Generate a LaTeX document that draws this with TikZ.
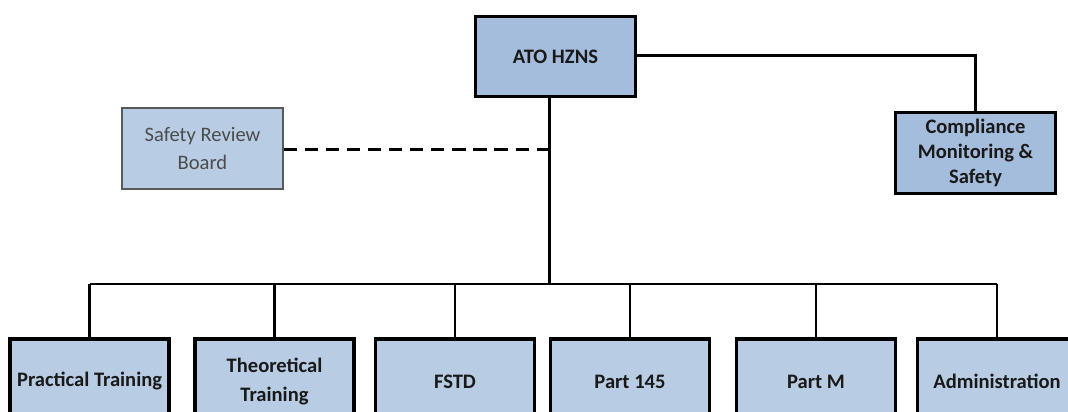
\documentclass[tikz,border=0pt]{standalone}
\usepackage{fontspec}
\setmainfont{Carlito}
\definecolor{headblue}{HTML}{A5BDDC}
\definecolor{unitblue}{HTML}{B8CCE4}

\begin{document}
\begin{tikzpicture}[scale=0.2,
		every node/.style={inner sep=0pt, align=center, text=black!90, font=\fontsize{11.7}{16}\selectfont\bfseries},
		headbox/.style={draw=black, line width=2pt, fill=headblue, minimum width=3.2cm, minimum height=1.6cm},
		unitbox/.style={draw=black, line width=2pt, fill=unitblue, minimum width=3.18cm, minimum height=1.7cm},
		boardbox/.style={draw=black!65, line width=0.7pt, fill=unitblue, minimum width=3.22cm, minimum height=1.62cm, text=black!70, font=\fontsize{11.7}{16}\selectfont},
		link/.style={black, line width=1.5pt},
		dashlink/.style={link, dash pattern=on 7.5pt off 4.5pt}]
		\useasboundingbox (0,0) rectangle (106.8,-41.2);
		\clip (0,0) rectangle (106.8,-41.2);
		% top level
		\node [headbox] (ato) at (55.55,-5.65) {ATO HZNS};
		\node [boardbox] (srb) at (20.25,-14.85) {Safety Review\\Board};
		\node [headbox, minimum height=1.62cm, font=\fontsize{11.7}{14}\selectfont\bfseries] (cms) at (97.55,-15.3) {Compliance\\Monitoring \&\\Safety};
		% departments
		\node [unitbox] (pt) at (8.96,-38.15) {Practical Training};
		\node [unitbox] (tt) at (27.45,-38.15) {Theoretical\\Training};
		\node [unitbox] (fstd) at (45.5,-38.15) {FSTD};
		\node [unitbox] (p145) at (63.0,-38.15) {Part 145};
		\node [unitbox] (pm) at (81.6,-38.15) {Part M};
		\node [unitbox] (admin) at (99.7,-38.15) {Administration};
		\coordinate (trunk) at (54.95,-28.4);
		% connectors
		\draw [link] ([yshift=0.07cm]ato.east) -| (cms.north);
		\draw [link] (trunk |- ato.south) -- (trunk);
		\draw [dashlink] ([yshift=-0.07cm]srb.east) -- ([yshift=-0.07cm]srb.east -| trunk);
		\draw [link] (pt.north |- trunk) -- (admin.north |- trunk);
		\foreach \n in {pt,tt,fstd,p145,pm,admin}
			\draw [link] (\n.north) -- (\n.north |- trunk);
\end{tikzpicture}
\end{document}
